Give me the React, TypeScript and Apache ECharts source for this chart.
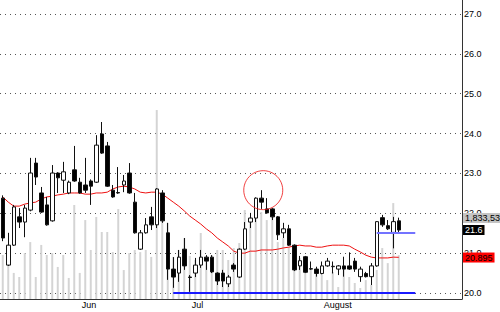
import React, { useEffect, useRef } from "react";
import * as echarts from "echarts";

// number of day slots on the category axis (73 trading days + empty space on the right)
const slots = 84;
const tickIndex = [14, 34, 58];
const tickLabels = ["Jun", "Jul", "August"];

const open = [
  22.38, 20.7, 21.2, 21.91, 21.78, 22.08, 23.26, 22.51, 22.21, 21.81,
  23.01, 22.83, 22.51, 23.09, 22.78, 22.71, 22.81, 22.78, 23.99, 23.69,
  22.58, 22.52, 22.71, 23.01, 22.28, 21.1, 21.51, 21.91, 21.71, 22.51,
  21.51, 20.6, 20.5, 21.1, 20.4, 20.5, 20.7, 20.9, 20.9, 20.5,
  20.5, 20.23, 20.7, 20.4, 21.1, 21.78, 21.88, 22.38, 22.11, 22.11,
  21.91, 21.51, 21.61, 21.2, 20.68, 20.91, 20.61, 20.6, 20.49, 20.68,
  20.66, 20.6, 20.68, 20.68, 20.8, 20.41, 20.49, 20.41, 20.68, 21.89,
  21.69, 21.52, 21.81,
];
const close = [
  21.38, 21.2, 22.16, 21.78, 22.13, 23.01, 22.91, 22.03, 21.71, 23.01,
  22.89, 23.04, 22.78, 22.81, 22.51, 22.58, 22.68, 23.71, 23.51, 22.68,
  22.41, 22.51, 22.81, 22.51, 21.51, 21.51, 21.71, 21.71, 22.61, 21.81,
  20.6, 20.4, 20.9, 20.68, 20.39, 20.7, 20.9, 20.8, 20.53, 20.3,
  20.3, 20.4, 20.6, 21.1, 21.61, 21.88, 22.38, 22.28, 22.01, 21.91,
  21.46, 21.61, 21.2, 20.58, 20.81, 20.52, 20.6, 20.49, 20.68, 20.8,
  20.67, 20.68, 20.6, 20.6, 20.6, 20.6, 20.41, 20.68, 21.79, 21.71,
  21.61, 21.79, 21.58,
];
const low = [
  21.3, 20.68, 21.18, 21.63, 21.4, 22.05, 22.71, 22.01, 21.69, 21.79,
  22.51, 22.51, 22.48, 22.79, 22.49, 22.51, 22.21, 22.76, 23.49, 22.66,
  22.39, 22.49, 22.53, 22.49, 21.49, 21.08, 21.49, 21.58, 21.63, 21.76,
  20.33, 20.13, 20.28, 20.58, 20.03, 20.4, 20.63, 20.58, 20.5, 20.2,
  20.15, 20.15, 20.53, 20.38, 21.08, 21.63, 21.78, 22.11, 21.99, 21.83,
  21.33, 21.38, 21.18, 20.55, 20.58, 20.5, 20.58, 20.41, 20.47, 20.66,
  20.49, 20.45, 20.41, 20.58, 20.53, 20.28, 20.39, 20.2, 20.66, 21.66,
  21.58, 21.12, 21.5,
];
const high = [
  22.45, 21.51, 22.21, 22.13, 22.21, 23.39, 23.39, 22.66, 22.41, 23.21,
  23.03, 23.29, 22.82, 23.69, 22.89, 23.39, 22.85, 23.96, 24.29, 23.79,
  22.71, 23.16, 22.96, 23.26, 22.51, 21.58, 21.88, 22.16, 22.63, 22.58,
  21.76, 20.9, 21.08, 21.38, 20.45, 20.88, 21.08, 20.95, 20.95, 20.52,
  20.58, 20.45, 20.75, 21.12, 21.78, 22.01, 22.4, 22.58, 22.38, 22.13,
  21.93, 21.76, 21.71, 21.22, 20.93, 20.93, 20.79, 20.66, 20.79, 20.88,
  20.79, 20.7, 20.91, 21.02, 20.88, 20.66, 20.53, 20.75, 21.8, 21.96,
  21.83, 21.91, 21.89,
];
const volume = [
  1840000, 1420000, 1090000, 920000, 1920000, 2380000, 920000, 2260000, 1840000, 1920000,
  1340000, 1840000, 880000, 3930000, 1090000, 3300000, 2050000, 3430000, 2800000, 2800000,
  1960000, 3760000, 1210000, 1920000, 2050000, 1960000, 2050000, 1760000, 7900000, 3590000,
  3180000, 1760000, 2050000, 2550000, 1800000, 1630000, 2760000, 1710000, 1840000, 2050000,
  2050000, 1630000, 2130000, 2340000, 3720000, 3430000, 3930000, 3640000, 3300000, 3430000,
  2380000, 2550000, 2170000, 1920000, 1710000, 1630000, 1210000, 1090000, 1210000, 790000,
  1130000, 500000, 1340000, 920000, 670000, 460000, 790000, 590000, 1210000, 2130000,
  1500000, 4010000, 1833530,
];
const ma20 = [
  22.41, 22.28, 22.18, 22.18, 22.23, 22.26, 22.28, 22.36, 22.41, 22.43,
  22.46, 22.48, 22.51, 22.51, 22.51, 22.48, 22.48, 22.51, 22.51, 22.53,
  22.61, 22.66, 22.68, 22.66, 22.61, 22.53, 22.51, 22.53, 22.53, 22.48,
  22.38, 22.28, 22.18, 22.06, 21.93, 21.83, 21.73, 21.61, 21.51, 21.38,
  21.28, 21.18, 21.05, 21.0, 21.0, 21.05, 21.05, 21.08, 21.08, 21.08,
  21.1, 21.13, 21.15, 21.18, 21.2, 21.18, 21.18, 21.15, 21.15, 21.18,
  21.2, 21.2, 21.2, 21.18, 21.1, 21.03, 20.95, 20.9, 20.88, 20.88,
  20.88, 20.9, 20.895,
];
// annotations
const supportLevel = 20.0;
const supportFrom = 31;
const closeLineLevel = 21.5;
const closeLineFrom = 68;
const linesTo = 75;
const circledDay = 47;
const circledValue = 22.58;

const FONT = "'Liberation Sans', Arial, sans-serif";

export default function App() {
  const ref = useRef<HTMLDivElement>(null);
  useEffect(() => {
    if (!ref.current) return;
    const chart = echarts.init(ref.current, null, { renderer: "svg" });
    const cats = Array.from({ length: slots }, (_, i) => "d" + i);
    const labelAt = (i: number) => {
      const k = tickIndex.indexOf(i);
      return k >= 0 ? tickLabels[k] : "";
    };
    const ohlc = open.map((o, i) => [o, close[i], low[i], high[i]]);
    const last = close.length - 1;
    const hidden = { color: "rgba(0,0,0,0)", width: 0, type: "solid" };
    const boxLabel = (bg: string, fg: string, text: string) => ({
      show: true,
      position: "end",
      distance: 1,
      formatter: text,
      backgroundColor: bg,
      color: fg,
      opacity: 1,
      fontSize: 9,
      fontFamily: FONT,
      padding: [1, 2, 0, 2],
      lineHeight: 9,
    });
    chart.setOption({
      animation: false,
      backgroundColor: "#ffffff",
      textStyle: { fontFamily: FONT },
      grid: [
        { left: -2.5, right: 38, top: 14, bottom: 19 },
        { left: -2.5, right: 38, top: 0, bottom: 13 },
      ],
      xAxis: [
        { type: "category", gridIndex: 0, data: cats, show: false },
        {
          type: "category",
          gridIndex: 1,
          data: cats,
          axisLine: { lineStyle: { color: "#333", width: 1 } },
          axisTick: {
            alignWithLabel: true,
            length: 4,
            interval: (i: number) => labelAt(i) !== "",
            lineStyle: { color: "#333" },
          },
          axisLabel: {
            interval: (i: number) => labelAt(i) !== "",
            formatter: (_v: string, i: number) => labelAt(i),
            align: "left",
            margin: 1,
            fontSize: 9,
            color: "#000",
            padding: [0, 0, 0, 2],
          },
        },
      ],
      yAxis: [
        {
          type: "value",
          gridIndex: 0,
          position: "right",
          min: 20,
          max: 27,
          interval: 1,
          axisLine: { show: false },
          axisTick: { show: false },
          axisLabel: {
            margin: 2,
            fontSize: 9,
            color: "#000",
            formatter: (v: number) => v.toFixed(1),
          },
          splitLine: { lineStyle: { color: "#555", width: 1, type: [1, 4] } },
        },
        {
          type: "value",
          gridIndex: 1,
          position: "right",
          min: 0,
          max: 12500000,
          axisLine: { show: true, lineStyle: { color: "#333", width: 1 } },
          axisTick: { show: false },
          axisLabel: { show: false },
          splitLine: { show: false },
        },
      ],
      series: [
        {
          type: "bar",
          xAxisIndex: 1,
          yAxisIndex: 1,
          data: volume,
          barWidth: 2,
          itemStyle: { color: "#d4d4d4" },
          z: 1,
          silent: true,
        },
        {
          type: "line",
          xAxisIndex: 0,
          yAxisIndex: 0,
          data: ma20,
          showSymbol: false,
          symbol: "none",
          lineStyle: { color: "#ee1111", width: 1 },
          z: 2,
          silent: true,
        },
        {
          type: "candlestick",
          xAxisIndex: 0,
          yAxisIndex: 0,
          data: ohlc,
          barWidth: 4,
          itemStyle: {
            color: "#ffffff",
            color0: "#000000",
            borderColor: "#111",
            borderColor0: "#111",
            borderWidth: 1,
          },
          z: 3,
          silent: true,
          markLine: {
            symbol: "none",
            silent: true,
            animation: false,
            data: [
              [
                { coord: [cats[supportFrom], supportLevel], lineStyle: { color: "#1a1aff", width: 2, type: "solid" }, label: { show: false } },
                { coord: [cats[linesTo], supportLevel] },
              ],
              [
                { coord: [cats[closeLineFrom], closeLineLevel], lineStyle: { color: "#7373ff", width: 2, type: "solid" }, label: { show: false } },
                { coord: [cats[linesTo], closeLineLevel] },
              ],
            ],
          },
        },
        {
          // value boxes at the right edge, on a series of their own
          type: "line",
          xAxisIndex: 0,
          yAxisIndex: 0,
          data: [],
          z: 6,
          silent: true,
          markLine: {
            symbol: "none",
            silent: true,
            animation: false,
            lineStyle: hidden,
            data: [
              { yAxis: close[last] + 0.3, lineStyle: hidden, label: boxLabel("#c4c4c4", "#000", volume[last].toLocaleString("en-US")) },
              { yAxis: close[last], lineStyle: hidden, label: boxLabel("#000000", "#ffffff", close[last].toFixed(1)) },
              { yAxis: ma20[last], lineStyle: hidden, label: boxLabel("#ff0000", "#000", ma20[last].toFixed(3)) },
            ],
          },
        },
        {
          type: "scatter",
          xAxisIndex: 0,
          yAxisIndex: 0,
          data: [[cats[circledDay], circledValue]],
          symbol: "circle",
          symbolSize: 39,
          symbolOffset: [2, 0],
          itemStyle: { color: "rgba(0,0,0,0)", borderColor: "#ee1111", borderWidth: 1 },
          z: 4,
          silent: true,
        },
      ],
    });
    return () => chart.dispose();
  }, []);
  return (
    <div
      ref={ref}
      style={{ position: "absolute", left: 0, top: 0, width: 500, height: 312, background: "#fff" }}
    />
  );
}
